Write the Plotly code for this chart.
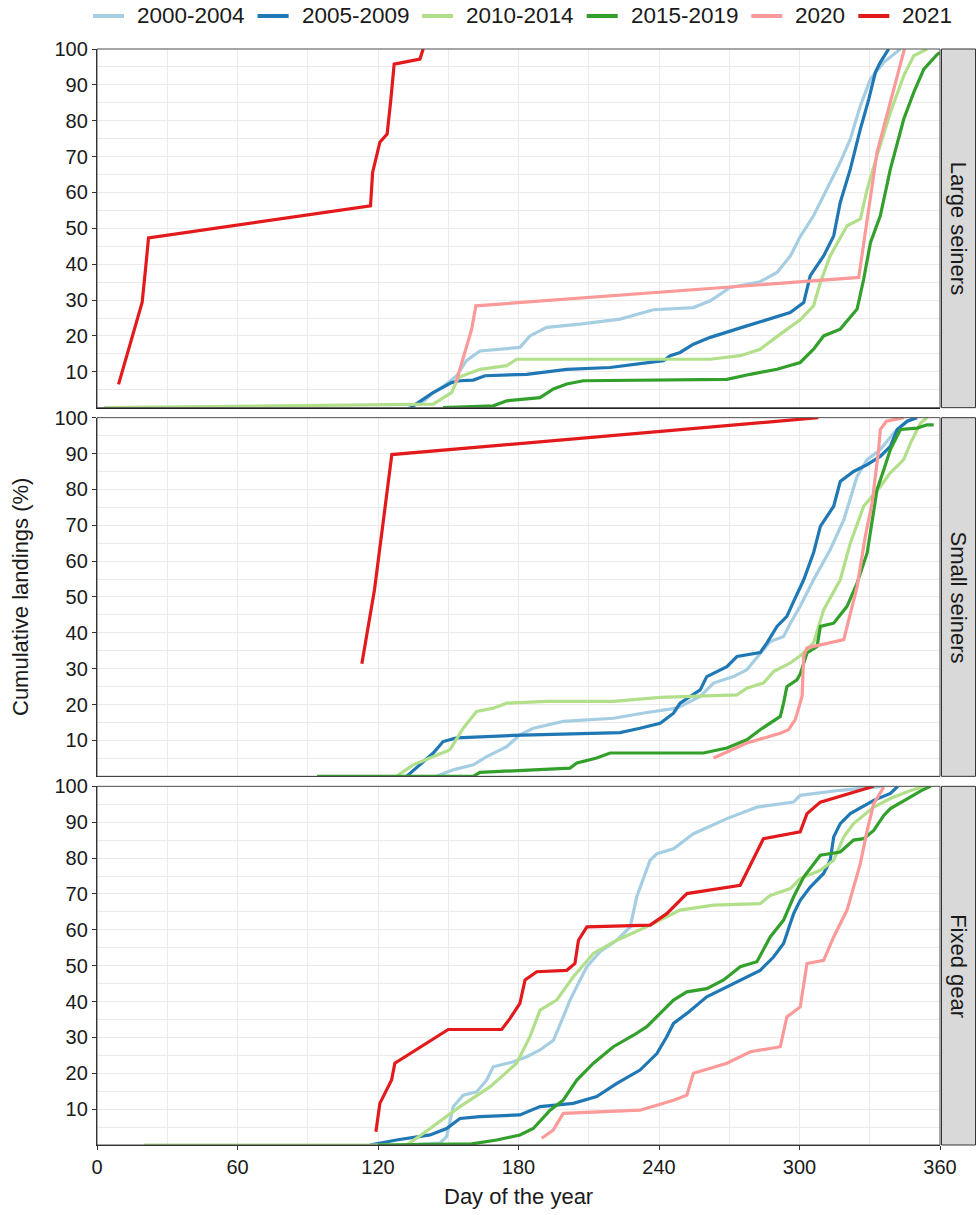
import plotly.graph_objects as go
from plotly.subplots import make_subplots

# ---------------- data: cumulative landings (%) by day of year ----------------
SERIES = ["2000-2004", "2005-2009", "2010-2014", "2015-2019", "2020", "2021"]
COLORS = ["#A6CEE3", "#1F78B4", "#B2DF8A", "#33A02C", "#FB9A99", "#E31A1C"]
FLEETS = ["Large seiners", "Small seiners", "Fixed gear"]
X_TICKS = [0, 60, 120, 180, 240, 300, 360]
Y_TICKS = [10, 20, 30, 40, 50, 60, 70, 80, 90, 100]

# Large seiners
large_0004_day = [133, 140, 143.6, 148, 153.6, 157.8, 163.5, 172, 180.6, 184.9, 192, 206.3, 223.4, 237.6,
                  254.7, 261.9, 270.4, 283.2, 290.4, 296.1, 300.3, 306, 311.8, 317.4, 321.7, 326, 330.3, 336, 343.1]
large_0004_pct = [0, 2, 4.2, 6, 8.9, 13.1, 15.8, 16.3, 16.8, 20.0, 22.4, 23.3, 24.7, 27.3,
                  27.9, 29.8, 33.5, 35.1, 37.7, 42.3, 47.7, 53.5, 60.9, 68.4, 74.9, 84.2, 91.6, 96.3, 100]
large_0509_day = [134, 136.4, 143, 151.4, 155, 160.7, 165.7, 183.5, 200.6, 219.1, 237.6, 241.9, 244.8, 249,
                  254.7, 261.9, 277.5, 288.9, 296, 301.8, 304.6, 310.3, 314.6, 317.4, 321.7, 326, 329.6,
                  332.4, 334.5, 338.1]
large_0509_pct = [0, 1.0, 4, 7.0, 7.5, 7.7, 8.9, 9.3, 10.7, 11.2, 12.6, 13.1, 14.5, 15.4,
                  17.7, 19.6, 22.8, 25.2, 26.5, 29.3, 36.8, 42.3, 47.9, 57.2, 66.5, 77.7, 86,
                  93.5, 96.3, 100]
large_1014_day = [3, 143.6, 151.4, 154.3, 163.5, 175, 179.2, 261.9, 274.7, 283.2, 291.8, 300.3, 306, 308.9,
                  313.1, 320.3, 326, 328.9, 333.1, 338.8, 344.5, 348.8, 354.5]
large_1014_pct = [0, 1.0, 4.2, 8.4, 10.7, 11.7, 13.5, 13.5, 14.5, 16.3, 20.5, 24.5, 28.4, 34.9,
                  42.3, 50.7, 52.6, 60.9, 70.2, 82.3, 92.5, 98.1, 100]
large_1519_day = [147.8, 169.2, 175, 189.2, 194.9, 200.6, 207.7, 269, 279, 290.4, 300.3, 306, 310.3, 317.4,
                  324.6, 327.4, 330.3, 334.5, 338.8, 344.5, 348.8, 353.1, 358.8, 360]
large_1519_pct = [0, 0.5, 1.9, 2.8, 5.2, 6.6, 7.5, 7.9, 9.3, 10.7, 12.6, 16.3, 20, 21.9,
                  27.5, 35.8, 46, 53.5, 66.5, 80.4, 87.9, 94.4, 98.5, 99]
large_2020_day = [153.3, 160, 161.8, 325.3, 333.1, 344.8]
large_2020_pct = [7.0, 21.9, 28.4, 36.3, 71.2, 100]
large_2021_day = [9.2, 16.8, 19.3, 21, 22, 116.8, 117.7, 120.8, 123.9, 125.5, 126.9, 137.9, 139.3]
large_2021_pct = [6.5, 23.8, 29.4, 40.5, 47.3, 56.3, 65.6, 74, 76.3, 86, 95.8, 97.2, 100]

# Small seiners
small_0004_day = [145, 152.1, 160.7, 166.4, 175, 180.6, 186.3, 199.1, 220.5, 234.8, 247.6, 257.6, 263.3,
                  271.8, 277.5, 283.2, 287.5, 293.2, 296.1, 300.3, 306, 313.1, 318.9, 324.6, 328.9,
                  334.5, 340.2, 346, 348.8]
small_0004_pct = [0, 1.8, 3.2, 5.5, 8.3, 11.6, 13.4, 15.3, 16.2, 17.8, 19.0, 22.3, 26,
                  27.8, 29.7, 34.4, 37.6, 39, 42.7, 47.4, 54.8, 63.2, 71.5, 83.6, 88.3,
                  91.1, 95.7, 99, 100]
small_0509_day = [132.2, 137.9, 143.6, 147.8, 153.6, 177.8, 206.3, 223.4, 231.9, 240.5, 246.2, 249, 257.6,
                  260.4, 269, 273.3, 283.2, 286.1, 290.4, 294.6, 297.5, 301.8, 306, 308.9, 314.6, 317.4,
                  323.1, 328.9, 334.5, 338.8, 341.7, 346, 350.2]
small_0509_pct = [0, 3.2, 6.5, 9.7, 10.7, 11.4, 12.0, 12.2, 13.4, 14.8, 17.6, 20.4, 24.1,
                  27.8, 30.6, 33.4, 34.5, 37.2, 41.8, 44.6, 48.8, 54.8, 62.3, 69.7, 75.3, 82.2,
                  85, 86.9, 89.2, 92, 96.7, 99, 100]
small_1014_day = [127.9, 135, 142.2, 150.7, 156.4, 162.1, 169.2, 175, 192, 220.5, 240.5, 273.3, 277.5,
                  284.6, 288.9, 296.1, 300.3, 306, 310.3, 317.4, 321.7, 327.4, 334.5, 338.8, 344.5,
                  347.4, 351.7, 354.5]
small_1014_pct = [0, 3.2, 5.1, 7.4, 13.4, 18.1, 19.0, 20.4, 20.9, 20.9, 22.0, 22.7, 24.6,
                  26, 29.2, 31.6, 33.6, 37.2, 46.4, 54.8, 65, 75.3, 80.8, 84.6, 88.3,
                  92.9, 98.5, 100]
small_1519_day = [94, 160.7, 163.5, 202, 204.9, 213.4, 219.1, 259, 269, 277.5, 283.2, 288.9, 291.8,
                  293.2, 294.6, 298.9, 300.3, 303.2, 307.5, 308.9, 314.6, 320.3, 324.6, 328.9, 331,
                  333.1, 336, 338.8, 343.1, 350.2, 354.5, 357.3]
small_1519_pct = [0, 0, 1.1, 2.3, 3.7, 5.1, 6.5, 6.5, 7.9, 10.2, 13, 15.3, 16.7,
                  20.4, 25, 26.9, 28.5, 34.4, 36.2, 41.8, 42.7, 47.4, 53.9, 62.3, 71.5,
                  79.9, 85.5, 91.1, 96.7, 97.1, 98.0, 98.0]
small_2020_day = [263.3, 277.5, 291.8, 295.3, 298.2, 301.1, 301.8, 303.2, 318.9, 320.3, 324.6, 328.1,
                  331, 333.8, 334.5, 337.1, 344.5]
small_2020_pct = [5.1, 9.3, 12, 13, 15.8, 22.3, 33.4, 35.8, 38.1, 41.8, 52.9, 66.9,
                  76.2, 91.1, 96.7, 99, 100]
small_2021_day = [113.1, 118.5, 125.9, 308]
small_2021_pct = [31.4, 52, 89.7, 100]

# Fixed gear
fixed_0004_day = [131, 146.4, 149.3, 152.1, 156.4, 162.1, 166.4, 169.2, 177.8, 183.5, 189.2, 194.9, 199.1,
                  202, 206.3, 209.2, 214.8, 222, 227.7, 230.5, 236.2, 239.1, 246.2, 254.7, 269, 281.8,
                  297.5, 300.3, 317.4, 331.7, 336]
fixed_0004_pct = [0, 0.5, 2.3, 10.7, 13.9, 14.8, 18.1, 21.8, 23.2, 24.6, 26.5, 29.2, 35.7,
                  40.4, 46, 49.7, 53.9, 57.1, 60.8, 69.2, 79.4, 81.2, 82.6, 86.8, 91, 94.2,
                  95.6, 97.5, 98.9, 99.8, 100]
fixed_0509_day = [116.5, 127.9, 142.2, 149.3, 155, 163.5, 180.6, 189.2, 203.4, 213.4, 222, 231.9, 239.1,
                  243.3, 246.2, 251.9, 260.4, 269, 277.5, 283.2, 288.9, 293.2, 296.1, 297.5, 300.3,
                  304.6, 310.3, 313.1, 314.6, 317.4, 321.7, 331.7, 338.8, 342]
fixed_0509_pct = [0, 1.4, 2.8, 4.6, 7.4, 7.9, 8.4, 10.7, 11.6, 13.5, 17.2, 20.9, 25.5,
                  30.2, 33.9, 36.7, 41.3, 44.1, 46.9, 48.7, 52.4, 56.2, 61.8, 64.5, 68.2,
                  71.9, 75.7, 79.4, 85.9, 89.6, 92.4, 96.1, 98, 100]
fixed_1014_day = [20, 132.2, 139.3, 146.4, 155, 167.8, 179.2, 184.9, 189.2, 196.3, 203.4, 212, 222,
                  236.2, 249, 263.3, 283.2, 287.5, 296.1, 300.3, 308.9, 314.6, 318.9, 323.1, 331.7,
                  338.8, 346, 353]
fixed_1014_pct = [0, 0, 3.2, 6.5, 10.7, 16.2, 22.8, 30.2, 37.6, 40.4, 46.9, 53.4, 57.1,
                  61.3, 65.5, 66.9, 67.3, 69.6, 71.5, 74.3, 76.6, 79.4, 85.9, 89.6, 94.2,
                  96.6, 98.5, 100]
fixed_1519_day = [120, 160, 170.7, 180.6, 186.3, 193.5, 199.1, 204.9, 212, 220.5, 229.1, 234.8, 240.5,
                  246.2, 251.9, 260.4, 267.6, 274.7, 281.8, 287.5, 293.2, 297.5, 301.8, 308.9, 317.4,
                  323.1, 327.4, 331.7, 336, 338.8, 346, 352, 356]
fixed_1519_pct = [0, 0.3, 1.4, 2.8, 4.6, 9.7, 12.5, 18.1, 22.8, 27.4, 30.6, 33, 36.7,
                  40.4, 42.7, 43.6, 46, 49.7, 51.1, 58, 62.7, 69.2, 74.7, 80.8, 81.7,
                  85, 85.4, 87.7, 91.9, 93.8, 96.5, 98.8, 100]
fixed_2020_day = [189.9, 194.9, 199.1, 231.9, 246.2, 251.9, 254.7, 269, 279, 291.8, 294.6, 300.3, 303.2,
                  310.3, 314.6, 320.3, 326, 328.9, 331.7, 336]
fixed_2020_pct = [1.9, 4.2, 8.8, 9.7, 12.5, 13.9, 20, 22.8, 26, 27.4, 35.7, 38.5, 50.6,
                  51.5, 58, 65.5, 78.5, 87.7, 95.2, 99.8]
fixed_2021_day = [119.1, 120.8, 125.8, 127.2, 150, 172.8, 176.4, 180.6, 182.8, 187.8, 200.6, 204.1, 205.6,
                  209.2, 236.2, 243.3, 251.9, 274.7, 284.6, 300.3, 303.2, 308.9, 331.7]
fixed_2021_pct = [3.7, 11.6, 18.1, 22.8, 32.2, 32.2, 35.3, 39.5, 46, 48.3, 48.7, 50.6, 57.1,
                  60.8, 61.3, 64.5, 70.1, 72.4, 85.4, 87.3, 92.4, 95.6, 100]

PANELS = [
    [(large_0004_day, large_0004_pct), (large_0509_day, large_0509_pct), (large_1014_day, large_1014_pct),
     (large_1519_day, large_1519_pct), (large_2020_day, large_2020_pct), (large_2021_day, large_2021_pct)],
    [(small_0004_day, small_0004_pct), (small_0509_day, small_0509_pct), (small_1014_day, small_1014_pct),
     (small_1519_day, small_1519_pct), (small_2020_day, small_2020_pct), (small_2021_day, small_2021_pct)],
    [(fixed_0004_day, fixed_0004_pct), (fixed_0509_day, fixed_0509_pct), (fixed_1014_day, fixed_1014_pct),
     (fixed_1519_day, fixed_1519_pct), (fixed_2020_day, fixed_2020_pct), (fixed_2021_day, fixed_2021_pct)],
]

# ---------------- figure ----------------
W, H = 976, 1215
ML, MR, MT, MB = 97, 36, 49, 70
PW = W - ML - MR
PH = H - MT - MB
GAP = 10

FONT = "Liberation Sans, Arial, Helvetica, sans-serif"
GRID = "#EBEBEB"
TEXT = "#1a1a1a"

fig = make_subplots(rows=3, cols=1, shared_xaxes=True, vertical_spacing=GAP / PH)

for r, panel in enumerate(PANELS, start=1):
    for i, (days, pct) in enumerate(panel):
        fig.add_trace(
            go.Scatter(
                x=days, y=pct, mode="lines", name=SERIES[i],
                line=dict(color=COLORS[i], width=3.2),
                legendgroup=SERIES[i], showlegend=False,
            ),
            row=r, col=1,
        )

for r in range(1, 4):
    fig.update_yaxes(
        range=[0, 100], tickmode="array", tickvals=Y_TICKS,
        ticks="outside", ticklen=4, tickwidth=1, tickcolor="#333333",
        showline=True, linecolor=TEXT, linewidth=1.3,
        showgrid=True, gridcolor=GRID, gridwidth=1.1, zeroline=False,
        minor=dict(tickmode="array", tickvals=[v - 5 for v in Y_TICKS], showgrid=True,
                   gridcolor=GRID, gridwidth=0.55, ticks=""),
        tickfont=dict(family=FONT, size=20, color=TEXT),
        row=r, col=1,
    )
    fig.update_xaxes(
        range=[0, 360], tickmode="array", tickvals=X_TICKS,
        ticks="outside" if r == 3 else "", ticklen=4, tickwidth=1, tickcolor="#333333",
        showline=True, linecolor=TEXT, linewidth=1.3,
        showgrid=True, gridcolor=GRID, gridwidth=1.1, zeroline=False,
        minor=dict(tickmode="array", tickvals=[30, 90, 150, 210, 270, 330], showgrid=True,
                   gridcolor=GRID, gridwidth=0.55, ticks=""),
        tickfont=dict(family=FONT, size=20, color=TEXT),
        showticklabels=(r == 3),
        row=r, col=1,
    )

shapes = []
annotations = []

# facet panels: border + grey strip on the right
strip_x0 = 1 + 1.5 / PW
strip_x1 = 1 + (MR - 0.5) / PW
for r, name in enumerate(FLEETS, start=1):
    ydom = "y domain" if r == 1 else f"y{r} domain"
    xdom = "x domain" if r == 1 else f"x{r} domain"
    shapes.append(dict(type="rect", xref=xdom, yref=ydom, x0=0, x1=1, y0=0, y1=1,
                       line=dict(color="#4d4d4d", width=1), fillcolor="rgba(0,0,0,0)", layer="above"))
    shapes.append(dict(type="rect", xref="paper", yref=ydom, x0=strip_x0, x1=strip_x1, y0=0, y1=1,
                       line=dict(color="#333333", width=1), fillcolor="#D9D9D9", layer="above"))
    annotations.append(dict(text=name, xref="paper", yref=ydom, x=(strip_x0 + strip_x1) / 2, y=0.5,
                            showarrow=False, textangle=90, xanchor="center", yanchor="middle",
                            font=dict(family=FONT, size=22, color=TEXT)))

# axis titles
annotations.append(dict(text="Cumulative landings (%)", xref="paper", yref="paper",
                        x=(20 - ML) / PW, y=0.5, showarrow=False, textangle=-90,
                        xanchor="center", yanchor="middle",
                        font=dict(family=FONT, size=22, color=TEXT)))
annotations.append(dict(text="Day of the year", xref="paper", yref="paper",
                        x=0.5, y=-(1197 - (H - MB)) / PH, showarrow=False,
                        xanchor="center", yanchor="middle",
                        font=dict(family=FONT, size=22, color=TEXT)))

# top legend: key line + label per period, laid out left to right
LEG_FONT = 22.5
KEY_LEN, KEY_GAP, ITEM_GAP = 31, 12, 14
CHAR_W = {"-": 0.333}
def text_width(s):
    return sum(CHAR_W.get(c, 0.556) for c in s) * LEG_FONT

leg_y = 1 + (MT - 16) / PH
x_px = 93
for name, col in zip(SERIES, COLORS):
    shapes.append(dict(type="line", xref="paper", yref="paper",
                       x0=(x_px - ML) / PW, x1=(x_px + KEY_LEN - ML) / PW, y0=leg_y, y1=leg_y,
                       line=dict(color=col, width=4)))
    tx = x_px + KEY_LEN + KEY_GAP
    annotations.append(dict(text=name, xref="paper", yref="paper", x=(tx - ML) / PW, y=leg_y,
                            showarrow=False, xanchor="left", yanchor="middle", xshift=-1,
                            font=dict(family=FONT, size=LEG_FONT, color=TEXT)))
    x_px = tx + text_width(name) + ITEM_GAP

fig.update_layout(
    width=W, height=H,
    margin=dict(l=ML, r=MR, t=MT, b=MB, autoexpand=False),
    paper_bgcolor="white", plot_bgcolor="white",
    shapes=shapes, annotations=annotations,
    showlegend=False,
)

fig.write_html("out.html")
